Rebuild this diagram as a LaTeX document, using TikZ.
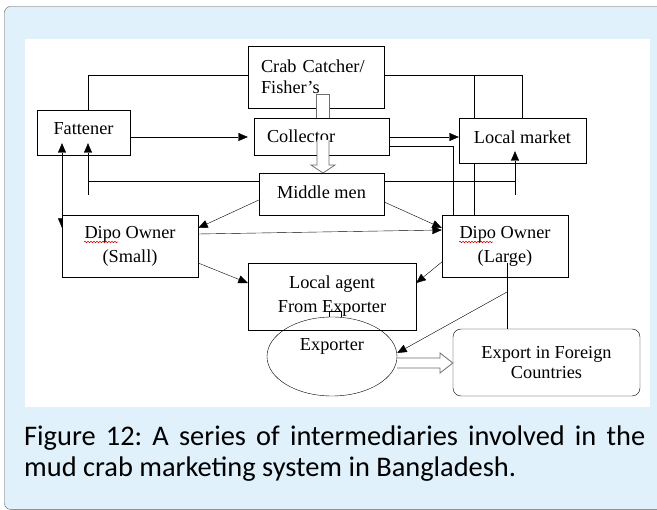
\documentclass[tikz,border=0pt]{standalone}
\usepackage{fontspec}
\setmainfont{Liberation Serif}
\newfontfamily\capfont{Carlito}
\usetikzlibrary{arrows.meta,shapes.geometric,calc,decorations.pathmorphing}

\definecolor{panelblue}{RGB}{224,241,251}
\definecolor{framegray}{RGB}{90,90,90}
\definecolor{blockgray}{RGB}{110,110,110}

\pgfdeclarelayer{panel}
\pgfdeclarelayer{back}
\pgfsetlayers{panel,back,main}

% lift a label inside its box without changing the box
\newcommand{\liftby}[2]{\raisebox{#1}[\height][\depth]{#2}}

\begin{document}
\begin{tikzpicture}[x=1pt,y=-1pt,
  line width=0.85pt,
  box/.style={draw, rectangle, inner sep=0pt, align=center,
    font=\fontsize{18.3}{24}\selectfont},
  arr/.style={-{Triangle[length=9.5pt,width=8pt]}},
  dblarr/.style={{Triangle[length=9.5pt,width=8pt]}-{Triangle[length=9.5pt,width=8pt]}},
  hollow/.style={draw=blockgray, fill=white, line width=0.8pt, line join=miter},
  squiggle/.style={draw=red!80!black, line width=0.5pt,
    decorate, decoration={snake, amplitude=0.8pt, segment length=3pt}}]

\useasboundingbox (0,0) rectangle (657,510);

% outer panel and white drawing area
\begin{pgfonlayer}{panel}
\draw[draw=framegray, fill=panelblue, rounded corners=6pt] (4.5,6.5) rectangle (690,509.4);
\fill[white] (25,39) rectangle (650,407);
\end{pgfonlayer}

% boxes
\node[box, minimum width=136pt, minimum height=62pt, text width=110pt, align=left,
      font=\fontsize{18.3}{21}\selectfont] (cc) at (316,77) {Crab Catcher/\\Fisher’s};
\node[box, minimum width=135pt, minimum height=37pt, text width=109pt, align=left] (cl) at (321.5,136.5) {Collector};
\node[box, minimum width=125pt, minimum height=42pt] (mm) at (321.5,194) {\liftby{1.5pt}{Middle men}};
\node[box, minimum width=93pt, minimum height=45pt] (fat) at (83.5,132.5) {\liftby{4pt}{Fattener}};
\node[box, minimum width=127pt, minimum height=45pt] (lm) at (522.5,140.5) {\liftby{3pt}{Local market}};
\node[box, fill=white, minimum width=136pt, minimum height=62pt] (dsm) at (130,246) {Dipo Owner\\(Small)};
\node[box, minimum width=126pt, minimum height=62pt] (dlg) at (505,246) {Dipo Owner\\(Large)};
\node[box, minimum width=168pt, minimum height=67pt] (la) at (332,296.5) {Local agent\\From Exporter};
\node[box, ellipse, minimum width=130pt, minimum height=79pt] (ex) at (332,356.5) {Exporter\\\mbox{}};
\node[box, rounded corners=8pt, minimum width=187pt, minimum height=67pt,
      font=\fontsize{18.3}{20}\selectfont] (ef) at (546.5,362.5) {Export in Foreign\\Countries};

% spell-check marks under "Dipo"
\draw[squiggle] (84,242) -- (118,242);
\draw[squiggle] (459,242) -- (493,242);

% bends of the connectors
\coordinate (kA) at (88,75);
\coordinate (kB) at (522,75.5);
\coordinate (kC) at (474,75.5);
\coordinate (kD) at (453,146);
\coordinate (kE) at (88,181);
\coordinate (kF) at (88,195);
\coordinate (kG) at (515,181);
\coordinate (kH) at (515,195);
\coordinate (kI) at (62,181);
\coordinate (kJ) at (507,292);

% fattener and large dipo owner fed from the crab catchers
\draw (kA |- fat.north) -- (kA) -- (kA -| cc.west);
\draw (cc.east |- kB) -- (kB) -- (kB |- lm.north);
\draw (kC) -- (kC |- lm.north);
\draw (kC |- lm.south) -- (kC |- dlg.north);

% collector links
\draw[arr, shorten >=6pt] ([yshift=-4.5pt]fat.east) -- ([yshift=-4.5pt]fat.east -| cl.west);
\draw[arr] (cl.east |- 0,137) -- (lm.west |- 0,137);
\draw (cl.east |- kD) -- (kD) -- (kD |- dlg.north);

% middle men to fattener and local market
\draw (mm.west |- kE) -- (kE);
\draw[arr] (kF) -- ($(kE |- fat.south)+(0,-12)$);
\draw (mm.east |- kG) -- (kG);
\draw[arr] (kH) -- ($(kG |- lm.south)+(0,-12)$);

% fattener and small dipo owner
\begin{pgfonlayer}{back}
\draw[dblarr] ($(kI |- fat.south)+(0,-12)$) -- ($(kI |- dsm.north)+(0,13)$);
\end{pgfonlayer}

% middle men to the dipo owners
\draw[arr] ([yshift=-6pt]mm.west) -- ([yshift=18pt]dsm.east);
\draw[arr] ([yshift=-8pt]mm.east) -- ([yshift=18pt]dlg.west);
\draw[arr] ([yshift=12pt]dsm.east) -- ([yshift=16pt]dlg.west);

% dipo owners to the local agent
\draw[arr] ([yshift=-17pt]dsm.east) -- ([yshift=13.5pt]la.west);
\draw[arr] ([yshift=-16pt]dlg.west) -- ([yshift=13.5pt]la.east);

% large dipo owner to export and to the exporter
\draw ($(kJ |- dlg.center)+(0,17)$) -- (kJ |- ef.north);
\draw[arr] (kJ) -- ([yshift=3.5pt]ex.east);

% local agent joined to the exporter
\draw (329,317) -- (329,311.5) -- (341,311.5) -- (341,317);

% block arrows: catcher -> collector -> middle men
\draw[hollow] (316,118) -- (316,94) -- (329,94) -- (329,118);
\draw[hollow] (317,140) -- (317,165) -- (311,165) -- (323,173) -- (335,165) -- (329,165) -- (329,140);

% block arrow: exporter -> foreign countries
\draw[hollow] (ex.east |- 0,358) -- (440,358) -- (440,353) -- (ef.west |- 0,363) -- (440,373) -- (440,368) -- (ex.east |- 0,368);

% caption
\node[anchor=north west, inner sep=0pt, text width=621pt, align=justify,
      font=\capfont\fontsize{28.4}{31}\selectfont\frenchspacing] (cap) at (24,426)
  {Figure 12: A series of intermediaries involved in the\linebreak
   mud crab marketing system in Bangladesh.};
\end{tikzpicture}
\end{document}
